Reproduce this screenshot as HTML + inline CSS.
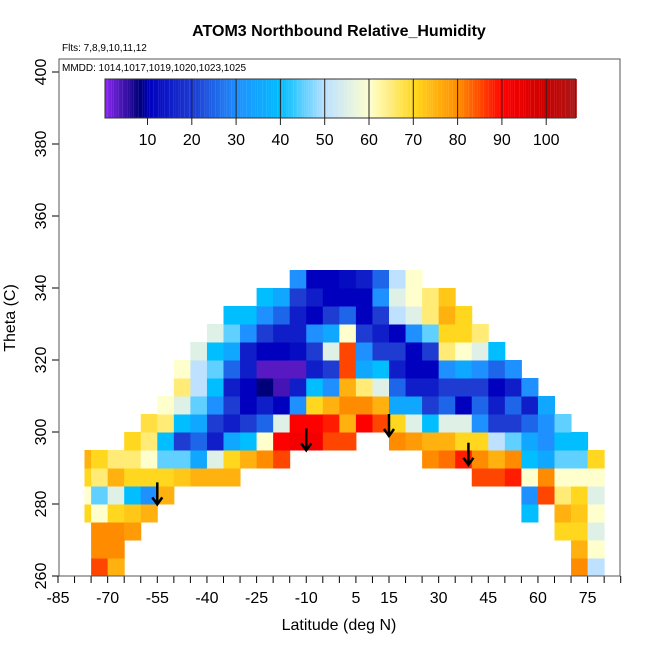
<!DOCTYPE html>
<html><head><meta charset="utf-8"><style>
body{margin:0;background:#fff}
svg text{font-family:"Liberation Sans",sans-serif}
</style></head><body>
<svg id="c" width="650" height="650" xmlns="http://www.w3.org/2000/svg">
<text x="339" y="36" font-size="16" font-weight="bold" text-anchor="middle">ATOM3 Northbound Relative_Humidity</text>
<text x="62" y="51" font-size="10">Flts: 7,8,9,10,11,12</text>
<g id="cells"></g>
<g id="cbar"></g>
<g id="axes"></g>
<rect x="59" y="59" width="561" height="517" fill="none" stroke="#555" stroke-width="1"/>
<text x="62" y="71" font-size="10">MMDD: 1014,1017,1019,1020,1023,1025</text>
<text x="339" y="630" font-size="16" text-anchor="middle">Latitude (deg N)</text>
<text transform="translate(15,318) rotate(-90)" font-size="16" text-anchor="middle">Theta (C)</text>
</svg>
<script>
const colLats=[-80,-75,-70,-65,-60,-55,-50,-45,-40,-35,-30,-25,-20,-15,-10,-5,0,5,10,15,20,25,30,35,40,45,50,55,60,65,70,75];
const colBottoms=[275,260,260,270,275,280,285,285,285,285,290,290,290,295,295,295,295,300,300,295,295,290,290,290,285,285,285,275,280,270,260,260];
const colValues=[
[70,60,70,75],
[85,80,80,60,45,65,70],
[75,80,80,70,55,75,65],
[78,72,40,70,65,70],
[75,30,70,60,65,68],
[75,70,45,40,65,60],
[72,45,20,40,55,65,60],
[75,35,25,35,45,50,50,55],
[75,55,15,20,30,40,45,40,55],
[75,70,35,15,20,15,25,35,45,40],
[75,40,20,10,10,15,15,30,40],
[80,60,25,15,8,3,10,20,30,40],
[85,90,55,10,4,3,10,15,25,35],
[92,90,30,15,3,12,15,15,20,30],
[92,90,70,40,15,20,30,10,15,10],
[85,88,75,30,20,55,35,20,10,10],
[85,75,80,75,85,85,60,25,10,12],
[90,80,65,35,30,20,10,10,15],
[85,75,55,40,20,15,20,30,25],
[80,70,35,25,15,20,10,50,55,50],
[78,55,35,15,10,10,30,55,60,60],
[80,75,40,20,15,10,20,45,65,65],
[82,75,55,25,20,30,65,70,75,72],
[88,70,55,10,20,35,60,70,70],
[85,80,70,30,25,20,30,55,65],
[85,75,50,20,15,10,25,40],
[88,80,45,20,25,15,30],
[40,30,60,40,35,25,15,30],
[85,80,35,30,30,35],
[70,75,65,60,45,40,45],
[80,75,70,72,70,60,45,40],
[50,60,55,60,55,60,70]
];
const cbTicks=[10,20,30,40,50,60,70,80,90,100];
const yTicks=[260,280,300,320,340,360,380,400];
const xTicks=[-85,-70,-55,-40,-25,-10,5,15,30,45,60,75];
const arrowLats=[-55,-10,15,39];
const arrowThetas=[286,301,305,297];

const NS='http://www.w3.org/2000/svg';
const X=l=>58+(l+85)*3.31;
const Y=t=>576-(t-260)*3.6;
const CB=v=>103.2+v*4.43;
const stops=[[0,[140,40,240]],[8,[0,0,120]],[10,[0,0,190]],[20,[30,60,210]],[30,[30,144,255]],[40,[0,190,255]],[50,[190,225,255]],[60,[255,255,205]],[70,[255,215,30]],[80,[255,140,0]],[90,[255,0,0]],[100,[200,0,0]],[107,[170,25,25]]];
function col(v){for(let i=0;i<stops.length-1;i++){const a=stops[i],b=stops[i+1];if(v<=b[0]){const f=Math.max(0,(v-a[0])/(b[0]-a[0]));const c=a[1].map((x,k)=>Math.round(x+(b[1][k]-x)*f));return `rgb(${c})`;}}return 'rgb(170,25,25)';}
function mk(tag,attrs,parent){const e=document.createElementNS(NS,tag);for(const k in attrs)e.setAttribute(k,attrs[k]);parent.appendChild(e);return e;}
const cells=document.getElementById('cells');
colLats.forEach((lat,i)=>{const w=lat===-80?2:5;const x0=lat===-80?lat+3:lat;colValues[i].forEach((v,j)=>{const t=colBottoms[i]+j*5;
const r=mk('rect',{x:X(x0),y:Y(t+5),width:X(x0+w)-X(x0)+0.5,height:Y(t)-Y(t+5)+0.5,fill:col(v)},cells);

});});
arrowLats.forEach((lat,i)=>{const x=X(lat),y=Y(arrowThetas[i]);
const g=mk('path',{d:`M${x},${y} L${x},${y+22} M${x-5},${y+15} L${x},${y+22} L${x+5},${y+15}`,stroke:'#000','stroke-width':2.5,fill:'none'},cells);

});
const cb=document.getElementById('cbar');
for(let v=0.4;v<106.6;v+=0.5){const r=mk('rect',{x:CB(v),y:79,width:2.3,height:39,fill:col(v)},cb);

}
mk('rect',{x:CB(0.4),y:79,width:CB(106.6)-CB(0.4),height:39,fill:'none',stroke:'#333'},cb);
cbTicks.forEach(v=>{mk('line',{x1:CB(v),x2:CB(v),y1:79,y2:125,stroke:'#222'},cb);
const t=mk('text',{x:CB(v),y:145,'font-size':16,'text-anchor':'middle'},cb);t.textContent=v;

});
const ax=document.getElementById('axes');
yTicks.forEach(v=>{mk('line',{x1:52,x2:59,y1:Y(v),y2:Y(v),stroke:'#000'},ax);
const t=mk('text',{transform:`translate(46,${Y(v)}) rotate(-90)`,'font-size':16,'text-anchor':'middle'},ax);t.textContent=v;

});
for(let l=-85;l<=85;l+=5){mk('line',{x1:X(l),x2:X(l),y1:576,y2:583,stroke:'#000'},ax);}
xTicks.forEach(v=>{const t=mk('text',{x:X(v),y:603,'font-size':16,'text-anchor':'middle'},ax);t.textContent=v;

});
</script>
</body></html>
